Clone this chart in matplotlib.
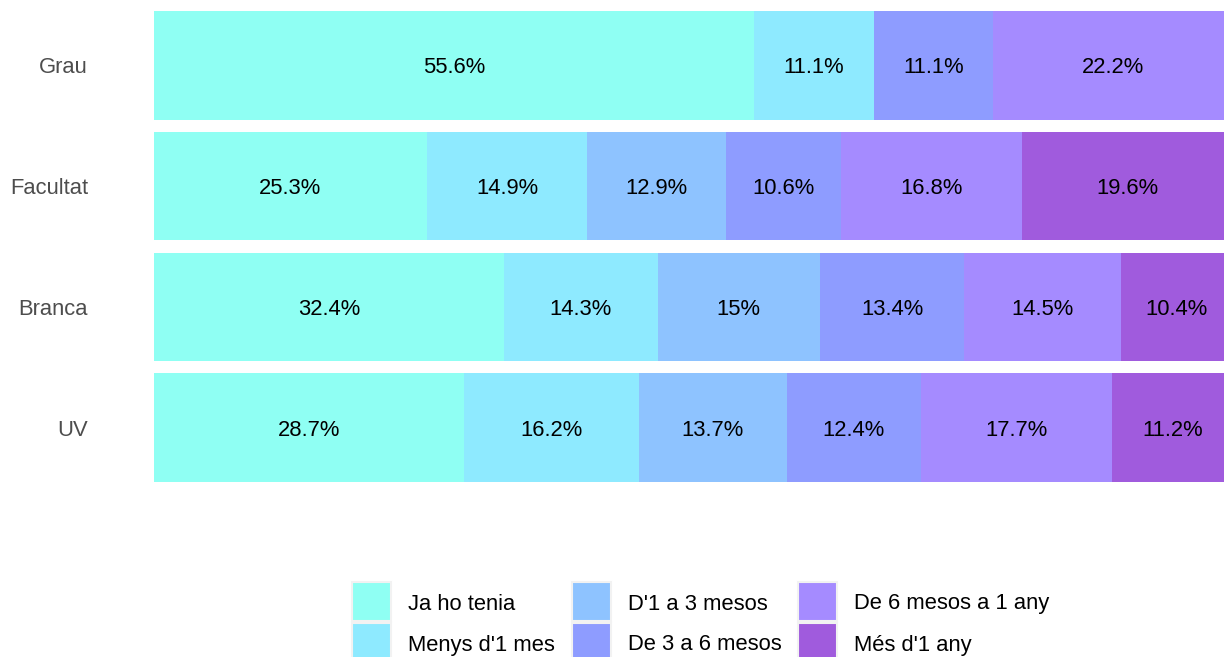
import matplotlib.pyplot as plt
from matplotlib.patches import Rectangle

plt.rcParams['font.family'] = ['Liberation Sans', 'DejaVu Sans']

groups = ['Grau', 'Facultat', 'Branca', 'UV']
categories = ['Ja ho tenia', "Menys d'1 mes", "D'1 a 3 mesos",
              'De 3 a 6 mesos', 'De 6 mesos a 1 any', "Més d'1 any"]
colors = ['#8FFFF3', '#8EEAFF', '#8EC3FF', '#8E9CFF', '#A58BFF', '#A05BDD']

# percentages per group, in category order (0 = not present)
grau = [55.6, 11.1, 0, 11.1, 22.2, 0]
facultat = [25.3, 14.9, 12.9, 10.6, 16.8, 19.6]
branca = [32.4, 14.3, 15, 13.4, 14.5, 10.4]
uv = [28.7, 16.2, 13.7, 12.4, 17.7, 11.2]
values = [grau, facultat, branca, uv]

W, H = 1224, 657
fig = plt.figure(figsize=(W / 100, H / 100), dpi=100)
# panel runs a little past the right edge, like the original
ax = fig.add_axes([154 / W, 1 - 488 / H, 1079 / W, 483 / H])

for gi, row in enumerate(values):
    total = sum(row)
    left = 0
    for ci, v in enumerate(row):
        if v == 0:
            continue
        w = v / total
        ax.barh(gi, w, left=left, height=0.9, color=colors[ci], linewidth=0)
        label = ('%g' % v) + '%'
        ax.text(left + w / 2, gi, label, ha='center', va='center_baseline',
                fontsize=15.8, color='black')
        left += w

ax.set_xlim(0, 1)
ax.set_ylim(3.5, -0.5)
ax.set_yticks(range(len(groups)))
ax.set_yticklabels(groups, fontsize=15.8, color='#4D4D4D', va='center_baseline')
ax.tick_params(axis='y', length=0, pad=47.5)
ax.set_xticks([])
for s in ax.spines.values():
    s.set_visible(False)

# legend: 3 columns x 2 rows, filled column by column
key_x = [352, 572, 798]
key_y = [582, 623]
key = 39
for i, (c, name) in enumerate(zip(colors, categories)):
    col, r = divmod(i, 2)
    x0, y0 = key_x[col], key_y[r]
    fig.add_artist(Rectangle((x0 / W, 1 - (y0 + key) / H), key / W, key / H,
                             transform=fig.transFigure, facecolor=c,
                             edgecolor='#F2F2F2', linewidth=1.5))
    fig.text((x0 + key + 17) / W, 1 - (y0 + key / 2) / H, name,
             fontsize=15.8, va='center_baseline', ha='left', color='black')

fig.savefig('out.png', dpi=100)
